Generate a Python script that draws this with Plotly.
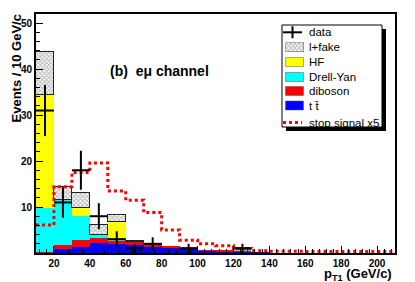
import math
import plotly.graph_objects as go

# ---- data (bins of 10 GeV/c from 10 to 210) ----
bin_edges = list(range(10, 220, 10))
bin_centers = [e + 5 for e in bin_edges[:-1]]

ttbar    = [0.05, 0.8, 1.4, 2.2, 2.0, 1.7, 1.4, 1.2, 1.0, 0.5, 0.35, 0.4, 0.1, 0, 0, 0, 0, 0, 0, 0]
diboson  = [0.2, 0.9, 1.4, 1.0, 0.8, 0.7, 0.3, 0.2, 0.15, 0.15, 0.1, 0.05, 0, 0, 0, 0, 0, 0, 0, 0]
drellyan = [9.55, 9.8, 5.2, 0.7, 0.4, 0.05, 0, 0, 0, 0, 0, 0.45, 0, 0, 0, 0, 0, 0, 0, 0]
hf       = [24.5, 0, 1.9, 0, 3.6, 0, 0, 0, 0, 0, 0, 0, 0, 0, 0, 0, 0, 0, 0, 0]
lfake    = [9.5, 2.8, 3.2, 2.3, 1.4, 0.2, 0.3, 0, 0, 0, 0, 0.25, 0, 0, 0, 0, 0, 0, 0, 0]
data     = [31, 11, 18, 8, 3, 1, 2, 0, 1, 0, 0, 1, 0, 0, 0, 0, 0, 0, 0, 0]
signal   = [6.1, 14.4, 17.5, 19.6, 13.5, 11.5, 8.8, 5.0, 2.8, 2.0, 1.6, 1.0, 0.5,
            0.4, 0.4, 0.35, 0.35, 0.3, 0.3, 0.3]

x_ticks = [20, 40, 60, 80, 100, 120, 140, 160, 180, 200]
y_ticks = [10, 20, 30, 40, 50]

legend_labels = ["data", "l+fake", "HF", "Drell-Yan", "diboson", "t t\u0304", "stop signal x5"]

FONT = "Liberation Sans, Arial, Helvetica, sans-serif"
W, H = 415, 282
L, R, T, B = 36, 20, 14, 29
PW, PH = W - L - R, H - T - B

def px_to_paper(px, py):
    return (px - L) / PW, (H - B - py) / PH

HATCH = dict(shape="x", fgcolor="#666666", bgcolor="white", size=3, solidity=0.5)

fig = go.Figure()

def nz(v):
    return [x if x > 0 else None for x in v]

fig.add_trace(go.Bar(x=bin_centers, y=ttbar, width=10, marker=dict(color="#0000ff", line=dict(width=0)), showlegend=False))
fig.add_trace(go.Bar(x=bin_centers, y=diboson, width=10, marker=dict(color="#ff0000", line=dict(width=0)), showlegend=False))
fig.add_trace(go.Bar(x=bin_centers, y=drellyan, width=10, marker=dict(color="#00ffff", line=dict(width=0)), showlegend=False))
fig.add_trace(go.Bar(x=bin_centers, y=hf, width=10, marker=dict(color="#ffff00", line=dict(width=0)), showlegend=False))
fig.add_trace(go.Bar(x=bin_centers, y=nz(lfake), width=10,
                     marker=dict(color="white", pattern=HATCH, line=dict(color="#222222", width=1)),
                     showlegend=False))

# stop signal step line
fig.add_trace(go.Scatter(x=bin_edges, y=signal + [signal[-1]], mode="lines", line_shape="hv",
                         line=dict(color="#ff0000", width=3, dash="dot"), showlegend=False))

# data points
dx = [c for c, d in zip(bin_centers, data) if d > 0]
dy = [d for d in data if d > 0]
de = [math.sqrt(d) for d in dy]
fig.add_trace(go.Scatter(x=dx, y=dy, mode="markers", marker=dict(size=1, color="black"),
                         error_y=dict(type="data", array=de, color="black", thickness=2, width=0),
                         error_x=dict(type="constant", value=5, color="black", thickness=2, width=0),
                         showlegend=False))

# ---- legend (pixel-coordinate overlay axes) ----
lx0, lx1, ly0, ly1 = 282, 382, 25, 127
shapes = [
    dict(type="rect", xref="x2", yref="y2", x0=lx0 + 4, x1=lx1 + 4, y0=ly0 + 4, y1=ly1 + 4,
         fillcolor="black", line=dict(width=0), layer="below"),
    dict(type="rect", xref="x2", yref="y2", x0=lx0, x1=lx1, y0=ly0, y1=ly1,
         fillcolor="white", line=dict(color="black", width=1), layer="below"),
]
ent_y = [32.3, 47.3, 62.0, 77.0, 91.0, 105.5, 122.5]
sx0, sx1 = 285.5, 303.5
shapes.append(dict(type="line", xref="x2", yref="y2", x0=283, x1=302, y0=ent_y[0], y1=ent_y[0], line=dict(color="black", width=2)))
shapes.append(dict(type="line", xref="x2", yref="y2", x0=292.5, x1=292.5, y0=ent_y[0] - 6, y1=ent_y[0] + 6, line=dict(color="black", width=2)))
for yc, col in zip(ent_y[2:6], ["#ffff00", "#00ffff", "#ff0000", "#0000ff"]):
    shapes.append(dict(type="rect", xref="x2", yref="y2", x0=sx0, x1=sx1, y0=yc - 4.5, y1=yc + 4.5,
                       fillcolor=col, line=dict(color="#555555", width=0.5)))
shapes.append(dict(type="line", xref="x2", yref="y2", x0=283, x1=302, y0=ent_y[6], y1=ent_y[6],
                   line=dict(color="#ff0000", width=3, dash="dot")))
fig.add_trace(go.Bar(x=[(sx0 + sx1) / 2], y=[9], base=[ent_y[1] - 4.5], width=[sx1 - sx0],
                     xaxis="x2", yaxis="y2",
                     marker=dict(color="white", pattern=HATCH, line=dict(color="#555555", width=0.5)),
                     showlegend=False, hoverinfo="skip"))

annotations = []
for yc, lab in zip(ent_y, legend_labels):
    annotations.append(dict(x=306.5, y=yc, xref="x2", yref="y2", text=lab, showarrow=False,
                            xanchor="left", yanchor="middle", font=dict(family=FONT, size=11.5, color="black")))

annotations.append(dict(x=108, y=70.5, xref="x2", yref="y2", text="(b)  e\u03bc channel", showarrow=False,
                        xanchor="left", yanchor="middle", font=dict(family=FONT, size=14, color="black", weight="bold")))
ytx, yty = px_to_paper(15.5, 13)
annotations.append(dict(x=ytx, y=yty, xref="paper", yref="paper", text="Events / 10 GeV/c", textangle=-90, showarrow=False,
                        xanchor="center", yanchor="top", font=dict(family=FONT, size=13, color="black", weight="bold")))
xtx, xty = px_to_paper(394, 274.5)
annotations.append(dict(x=xtx, y=xty, xref="paper", yref="paper", text="p<sub>T1</sub> (GeV/c)", showarrow=False,
                        xanchor="right", yanchor="middle", font=dict(family=FONT, size=13, color="black", weight="bold")))

fig.update_layout(
    width=W, height=H,
    margin=dict(l=L, r=R, t=T, b=B, pad=0),
    paper_bgcolor="white", plot_bgcolor="white",
    barmode="stack", bargap=0, showlegend=False,
    font=dict(family=FONT, color="black"),
    xaxis=dict(range=[10, 210], tickmode="array", tickvals=x_ticks, ticks="inside", ticklen=7, tickwidth=1,
               tickcolor="black", showline=True, linecolor="black", linewidth=2, mirror=True,
               showgrid=False, zeroline=False,
               tickfont=dict(family=FONT, size=10, color="black", weight="bold"),
               minor=dict(dtick=4, tick0=0, ticks="inside", ticklen=4, tickcolor="black", showgrid=False)),
    yaxis=dict(range=[0, 52], tickmode="array", tickvals=y_ticks, ticks="inside", ticklen=7, tickwidth=1,
               tickcolor="black", showline=True, linecolor="black", linewidth=2, mirror=True,
               showgrid=False, zeroline=False,
               tickfont=dict(family=FONT, size=10, color="black", weight="bold"),
               minor=dict(dtick=2, tick0=0, ticks="inside", ticklen=4, tickcolor="black", showgrid=False)),
    xaxis2=dict(overlaying="x", anchor="y2", range=[L, W - R], visible=False, fixedrange=True),
    yaxis2=dict(overlaying="y", anchor="x2", range=[H - B, T], visible=False, fixedrange=True),
    shapes=shapes,
    annotations=annotations,
)

fig.write_html("out.html", config={"displayModeBar": False},
               post_script="document.body.style.margin='0';document.body.style.padding='0';")
